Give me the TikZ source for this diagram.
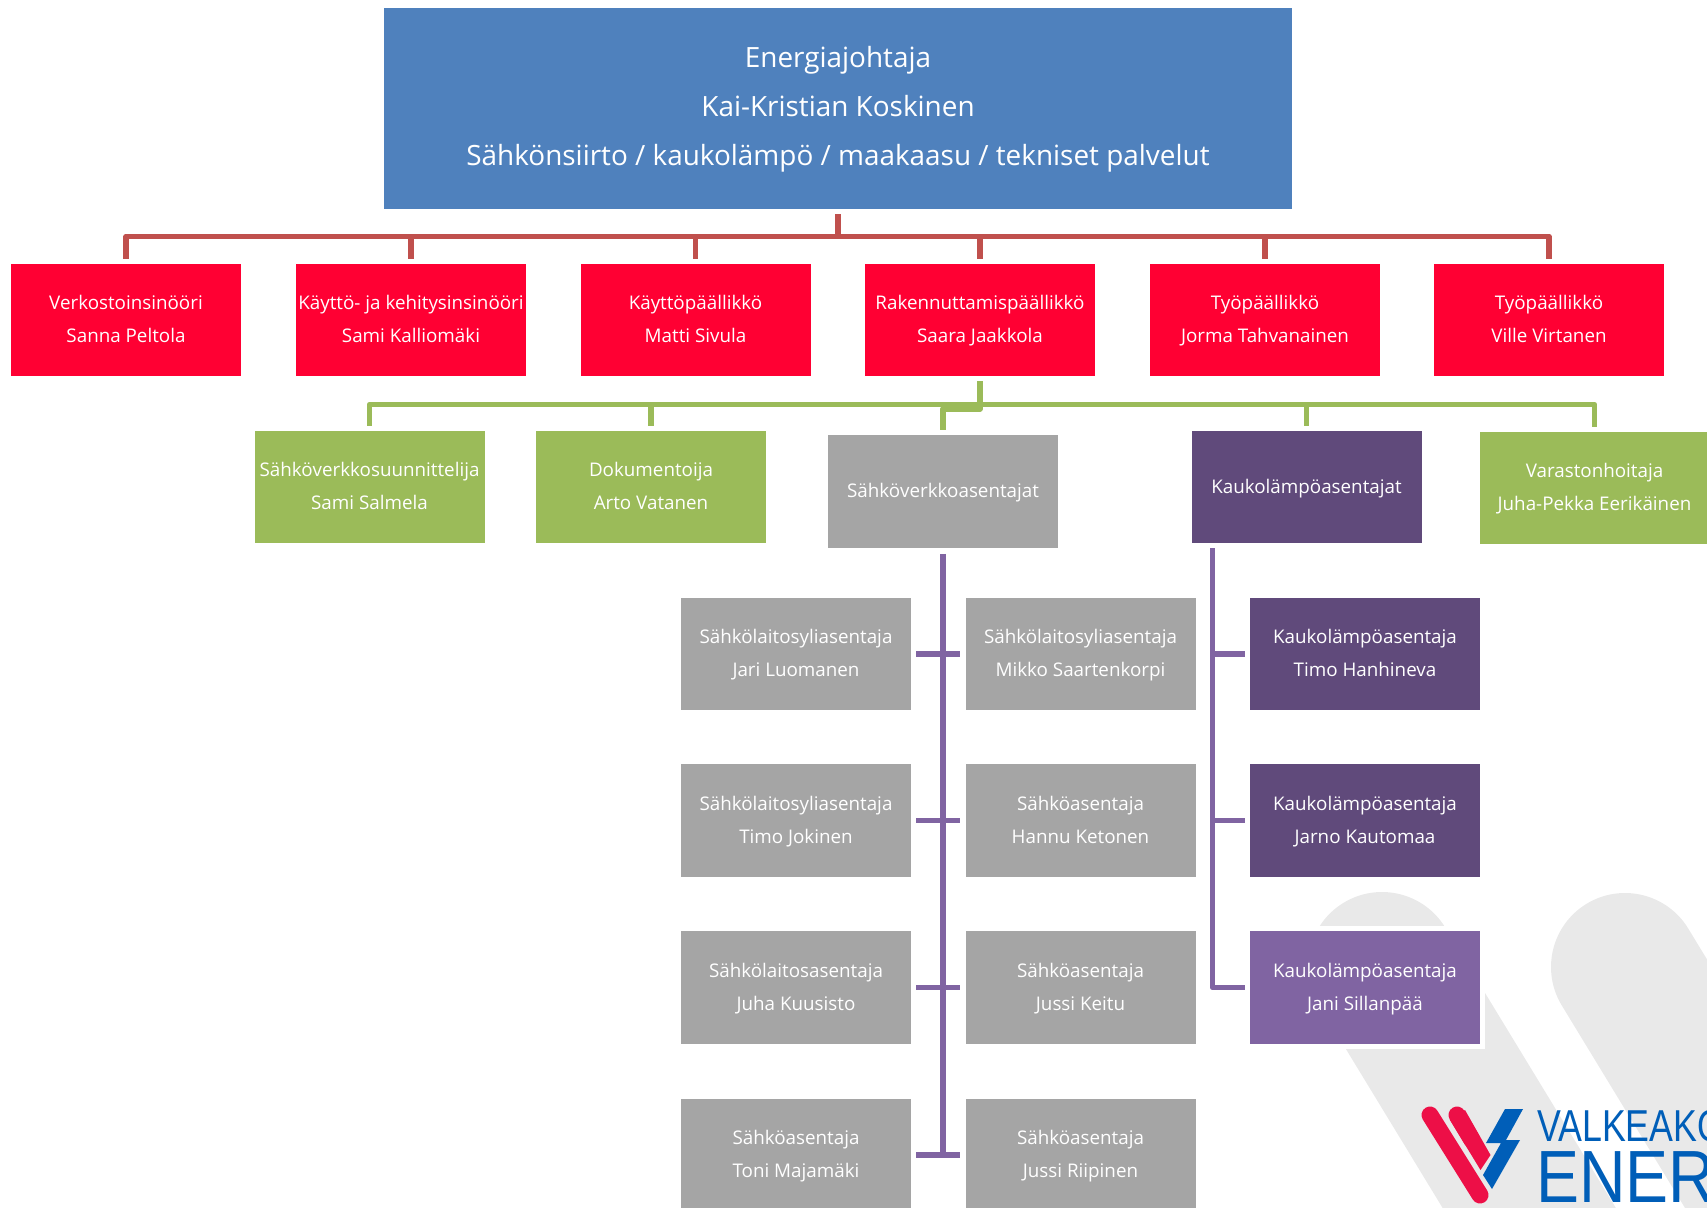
\documentclass[tikz,border=0pt]{standalone}
\usepackage{fontspec}
\setmainfont{Open Sans}
\newfontfamily\logofont{Liberation Sans}
\usepackage{xcolor}
\definecolor{TopBlue}{HTML}{4F81BD}
\definecolor{BoxRed}{HTML}{FF0033}
\definecolor{LineRed}{HTML}{C0504D}
\definecolor{BoxGreen}{HTML}{9BBB59}
\definecolor{BoxGray}{HTML}{A5A5A5}
\definecolor{DarkLila}{HTML}{604A7B}
\definecolor{Lila}{HTML}{8064A2}
\definecolor{MarkGray}{HTML}{E9E9E9}
\definecolor{LogoRed}{HTML}{ED0F47}
\definecolor{LogoBlue}{HTML}{005EB8}
\tikzset{
  Kasten/.style={fill=#1,text=white,align=center,inner sep=0pt,
    minimum width=230pt,minimum height=112.5pt,
    font={\fontsize{18.8}{33}\selectfont}},
  Box/.style={Kasten=#1,text height=52.4pt,text depth=7.4pt},
  Einzel/.style={Kasten=#1,text height=18pt,text depth=6pt},
  TopBox/.style={fill=TopBlue,text=white,align=center,inner sep=0pt,
    minimum width=908pt,minimum height=201pt,
    text height=125.4pt,text depth=10.6pt,
    font={\fontsize{27.9}{49}\selectfont}},
  Halo/.style={preaction={draw=white,line width=10pt}},
  Linie/.style={#1,line width=5.5pt,line join=round,shorten >=5pt,shorten <=5pt},
  Steg/.style={Lila,line width=5.5pt,line join=round},
  Streifen/.style={MarkGray,line width=148pt,line cap=round}
}

\begin{document}
\begin{tikzpicture}[x=1pt,y=-1pt]
\useasboundingbox (0,0) rectangle (1707,1207);
\clip (0,0) rectangle (1707,1207);

%Watermark
\draw[Streifen] (1382,966) -- (1640,1390);
\draw[Streifen] (1625,967) -- (1883,1391);

%Boxes
\node[TopBox] (Top) at (838,108.5) {Energiajohtaja\\Kai-Kristian Koskinen\\Sähkönsiirto / kaukolämpö / maakaasu / tekniset palvelut};

\node[Box=BoxRed] (R1) at (126,320) {Verkostoinsinööri\\Sanna Peltola};
\node[Box=BoxRed] (R2) at (411,320) {Käyttö- ja kehitysinsinööri\\Sami Kalliomäki};
\node[Box=BoxRed] (R3) at (695.5,320) {Käyttöpäällikkö\\Matti Sivula};
\node[Box=BoxRed] (R4) at (980,320) {Rakennuttamispäällikkö\\Saara Jaakkola};
\node[Box=BoxRed] (R5) at (1265,320) {Työpäällikkö\\Jorma Tahvanainen};
\node[Box=BoxRed] (R6) at (1549,320) {Työpäällikkö\\Ville Virtanen};

\node[Box=BoxGreen] (G1) at (369.5,487) {Sähköverkkosuunnittelija\\Sami Salmela};
\node[Box=BoxGreen] (G2) at (651,487) {Dokumentoija\\Arto Vatanen};
\node[Einzel=BoxGray] (S) at (943,491.5) {Sähköverkkoasentajat};
\node[Einzel=DarkLila] (K) at (1306.5,487) {Kaukolämpöasentajat};
\node[Box=BoxGreen] (G3) at (1594.5,488) {Varastonhoitaja\\Juha-Pekka Eerikäinen};

\node[Box=BoxGray] (A1) at (796,654) {Sähkölaitosyliasentaja\\Jari Luomanen};
\node[Box=BoxGray] (A2) at (796,820.5) {Sähkölaitosyliasentaja\\Timo Jokinen};
\node[Box=BoxGray] (A3) at (796,987.5) {Sähkölaitosasentaja\\Juha Kuusisto};
\node[Box=BoxGray] (A4) at (796,1155) {Sähköasentaja\\Toni Majamäki};
\node[Box=BoxGray] (B1) at (1080.5,654) {Sähkölaitosyliasentaja\\Mikko Saartenkorpi};
\node[Box=BoxGray] (B2) at (1080.5,820.5) {Sähköasentaja\\Hannu Ketonen};
\node[Box=BoxGray] (B3) at (1080.5,987.5) {Sähköasentaja\\Jussi Keitu};
\node[Box=BoxGray] (B4) at (1080.5,1155) {Sähköasentaja\\Jussi Riipinen};

\node[Box=DarkLila] (J1) at (1365,654) {Kaukolämpöasentaja\\Timo Hanhineva};
\node[Box=DarkLila] (J2) at (1365,820.5) {Kaukolämpöasentaja\\Jarno Kautomaa};
\node[Box=Lila,Halo] (J3) at (1365,987.5) {Kaukolämpöasentaja\\Jani Sillanpää};

%Red lines
\coordinate (RBus) at (838,236.5);
\draw[Linie=LineRed] (Top.south) -- (Top.south |- RBus) -| (R1.north);
\draw[Linie=LineRed] (Top.south) -- (Top.south |- RBus) -| (R2.north);
\draw[Linie=LineRed] (Top.south) -- (Top.south |- RBus) -| (R3.north);
\draw[Linie=LineRed] (Top.south) -- (Top.south |- RBus) -| (R4.north);
\draw[Linie=LineRed] (Top.south) -- (Top.south |- RBus) -| (R5.north);
\draw[Linie=LineRed] (Top.south) -- (Top.south |- RBus) -| (R6.north);

%Green lines
\coordinate (GBus) at (980,404.5);
\coordinate (SBus) at (980,409);
\draw[Linie=BoxGreen] (R4.south) -- (GBus) -| (G1.north);
\draw[Linie=BoxGreen] (R4.south) -- (GBus) -| (G2.north);
\draw[Linie=BoxGreen] (R4.south) -- (SBus) -| (S.north);
\draw[Linie=BoxGreen] (R4.south) -- (GBus) -| (K.north);
\draw[Linie=BoxGreen] (R4.south) -- (GBus) -| (G3.north);

%Purple lines
\draw[Steg,shorten <=6pt] (S.south) -- (S.south |- B4.west);
\draw[Linie=Lila] (A1.east) -- (B1.west);
\draw[Linie=Lila] (A2.east) -- (B2.west);
\draw[Linie=Lila] (A3.east) -- (B3.west);
\draw[Linie=Lila] (A4.east) -- (B4.west);
\coordinate (KTop) at (1212.5,543);
\draw[Linie=Lila] (KTop) |- (J3.west);
\draw[Steg,shorten >=5pt] (KTop |- J1.west) -- (J1.west);
\draw[Steg,shorten >=5pt] (KTop |- J2.west) -- (J2.west);

%Logo
\draw[LogoRed,line width=17pt,line cap=round] (1430,1115) -- (1480,1195);
\draw[LogoRed,line width=17pt,line cap=round] (1457,1115) -- (1472,1140);
\fill[LogoRed] (1450,1120) -- (1465,1110) -- (1490.5,1155) -- (1480.5,1170) -- cycle;
\fill[LogoBlue] (1505,1109) -- (1523,1109) -- (1506,1140) -- (1520,1140) -- (1492,1189) -- (1483,1175) -- (1501,1143) -- (1486,1143) -- cycle;
\node[anchor=base west,inner sep=0pt,text=LogoBlue,xscale=.8,font={\logofont\fontsize{44.7}{45}\selectfont}] (Valkea) at (1537,1141) {VALKEAKO};
\node[anchor=base west,inner sep=0pt,text=LogoBlue,xscale=.87,font={\logofont\fontsize{74}{74}\selectfont}] (Ener) at (1536,1202) {ENER};
\end{tikzpicture}
\end{document}
